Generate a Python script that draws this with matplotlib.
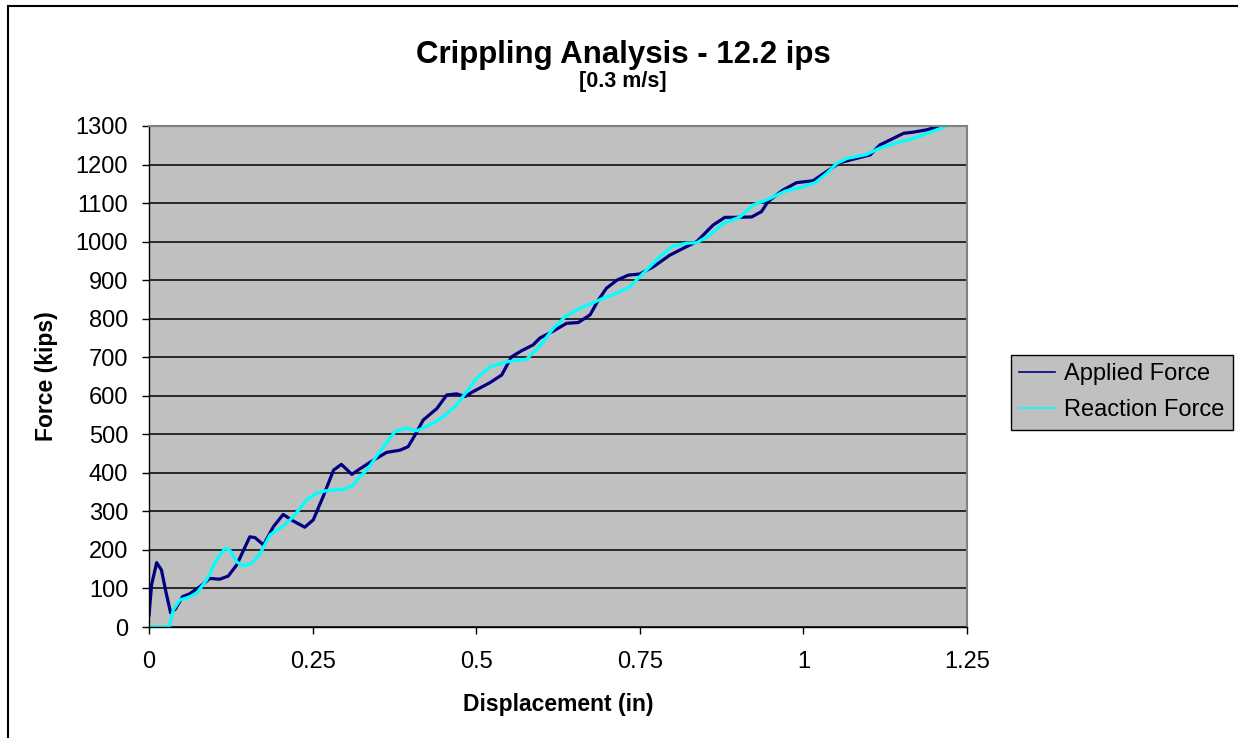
import matplotlib.pyplot as plt
from matplotlib.patches import Rectangle

plt.rcParams['font.family'] = ['Liberation Sans', 'DejaVu Sans']

# Applied force (kips) against displacement (in)
applied_x = [0.000, 0.004, 0.0117, 0.019, 0.026, 0.033, 0.040, 0.0515, 0.062, 0.078,
             0.093, 0.108, 0.121, 0.134, 0.154, 0.162, 0.175, 0.190, 0.205, 0.2205,
             0.238, 0.251, 0.266, 0.282, 0.294, 0.310, 0.322, 0.343, 0.363, 0.384,
             0.396, 0.4065, 0.419, 0.440, 0.455, 0.470, 0.483, 0.4955, 0.521, 0.539,
             0.554, 0.5695, 0.587, 0.5975, 0.618, 0.638, 0.656, 0.674, 0.6865, 0.699,
             0.715, 0.7325, 0.750, 0.771, 0.796, 0.8215, 0.837, 0.862, 0.880, 0.898,
             0.921, 0.936, 0.946, 0.969, 0.9895, 1.015, 1.0355, 1.056, 1.081, 1.102,
             1.117, 1.1375, 1.153, 1.168, 1.188, 1.2085]
applied_y = [30, 110, 167, 148, 90, 37, 46, 79, 86, 105,
             126, 124, 132, 161, 234, 232, 213, 260, 292, 275,
             259, 278, 338, 407, 422, 396, 410, 433, 453, 459,
             468, 498, 537, 567, 602, 605, 598, 611, 634, 654,
             701, 717, 732, 750, 768, 788, 790, 810, 848, 879,
             900, 913, 916, 935, 965, 987, 1000, 1043, 1063, 1063,
             1064, 1078, 1104, 1134, 1153, 1158, 1182, 1205, 1216, 1225,
             1251, 1268, 1281, 1284, 1290, 1300]

# Reaction force (kips) against displacement (in)
reaction_x = [0.000, 0.031, 0.037, 0.047, 0.062, 0.073, 0.088, 0.103, 0.116, 0.124,
              0.134, 0.144, 0.157, 0.170, 0.185, 0.205, 0.2205, 0.241, 0.256, 0.2715,
              0.297, 0.312, 0.322, 0.333, 0.353, 0.376, 0.391, 0.409, 0.429, 0.450,
              0.470, 0.4855, 0.5005, 0.521, 0.5465, 0.577, 0.5975, 0.618, 0.636, 0.6535,
              0.674, 0.694, 0.715, 0.735, 0.750, 0.7655, 0.781, 0.799, 0.8215, 0.837,
              0.857, 0.8775, 0.903, 0.923, 0.949, 0.972, 0.995, 1.018, 1.0355, 1.051,
              1.067, 1.0965, 1.117, 1.1425, 1.168, 1.193, 1.219]
reaction_y = [0, 0, 44, 70, 78, 88, 122, 174, 204, 198,
              169, 159, 165, 191, 239, 262, 286, 330, 347, 354,
              357, 368, 390, 407, 456, 507, 516, 509, 524, 546,
              576, 611, 645, 675, 688, 695, 730, 775, 805, 823,
              838, 853, 866, 883, 909, 935, 961, 987, 996, 997,
              1017, 1047, 1064, 1095, 1112, 1131, 1140, 1153, 1177, 1203,
              1216, 1226, 1243, 1256, 1268, 1283, 1300]

x_ticks = [0, 0.25, 0.5, 0.75, 1, 1.25]
x_tick_labels = ['0', '0.25', '0.5', '0.75', '1', '1.25']
y_ticks = list(range(0, 1301, 100))

W, H = 1238, 738
fig = plt.figure(figsize=(W / 100, H / 100), dpi=100)
fig.patch.set_facecolor('white')

# chart frame
fig.patches.append(Rectangle((8 / W, -0.1), 1.2, 1.1 - 6 / H, transform=fig.transFigure,
                             fill=False, edgecolor='black', linewidth=1.5))

ax = fig.add_axes([149 / W, 1 - 627 / H, 818 / W, 501 / H])
ax.set_facecolor('#C0C0C0')

ax.plot(applied_x, applied_y, color='#000080', linewidth=2.3, label='Applied Force',
        solid_joinstyle='round')
ax.plot(reaction_x, reaction_y, color='#00FFFF', linewidth=2.3, label='Reaction Force',
        solid_joinstyle='round')

ax.set_xlim(0, 1.25)
ax.set_ylim(0, 1300)
ax.set_xticks(x_ticks)
ax.set_xticklabels(x_tick_labels)
ax.set_yticks(y_ticks)
ax.yaxis.grid(True, color='black', linewidth=1.1)
ax.set_axisbelow(True)

for side in ['top', 'right']:
    ax.spines[side].set_color('#808080')
    ax.spines[side].set_linewidth(1.5)
for side in ['left', 'bottom']:
    ax.spines[side].set_color('black')
    ax.spines[side].set_linewidth(1.0)

ax.tick_params(axis='x', direction='out', length=5, width=1, pad=12, labelsize=17)
ax.tick_params(axis='y', direction='out', length=5, width=1, pad=10, labelsize=17)

ax.set_xlabel('Displacement (in)', fontsize=16.5, fontweight='bold', va='center')
ax.xaxis.set_label_coords(0.5, (627 - 704) / 501)
ax.set_ylabel('Force (kips)', fontsize=16.5, fontweight='bold', va='center')
ax.yaxis.set_label_coords((47 - 149) / 818, 0.5)

fig.text(623 / W, 1 - 55 / H, 'Crippling Analysis - 12.2 ips', fontsize=22.5,
         fontweight='bold', ha='center', va='center')
fig.text(623 / W, 1 - 81 / H, '[0.3 m/s]', fontsize=15.5, fontweight='bold',
         ha='center', va='center')

leg = ax.legend(loc='upper left', bbox_to_anchor=(1011 / W, 1 - 355 / H),
                bbox_transform=fig.transFigure, fontsize=17, frameon=True,
                fancybox=False, facecolor='#C0C0C0', edgecolor='black',
                framealpha=1, handlelength=1.5, handletextpad=0.4,
                borderpad=0.35, labelspacing=0.6, borderaxespad=0)
leg.get_frame().set_linewidth(1.0)
for line in leg.get_lines():
    line.set_linewidth(1.2)

fig.savefig('out.png', dpi=100)
